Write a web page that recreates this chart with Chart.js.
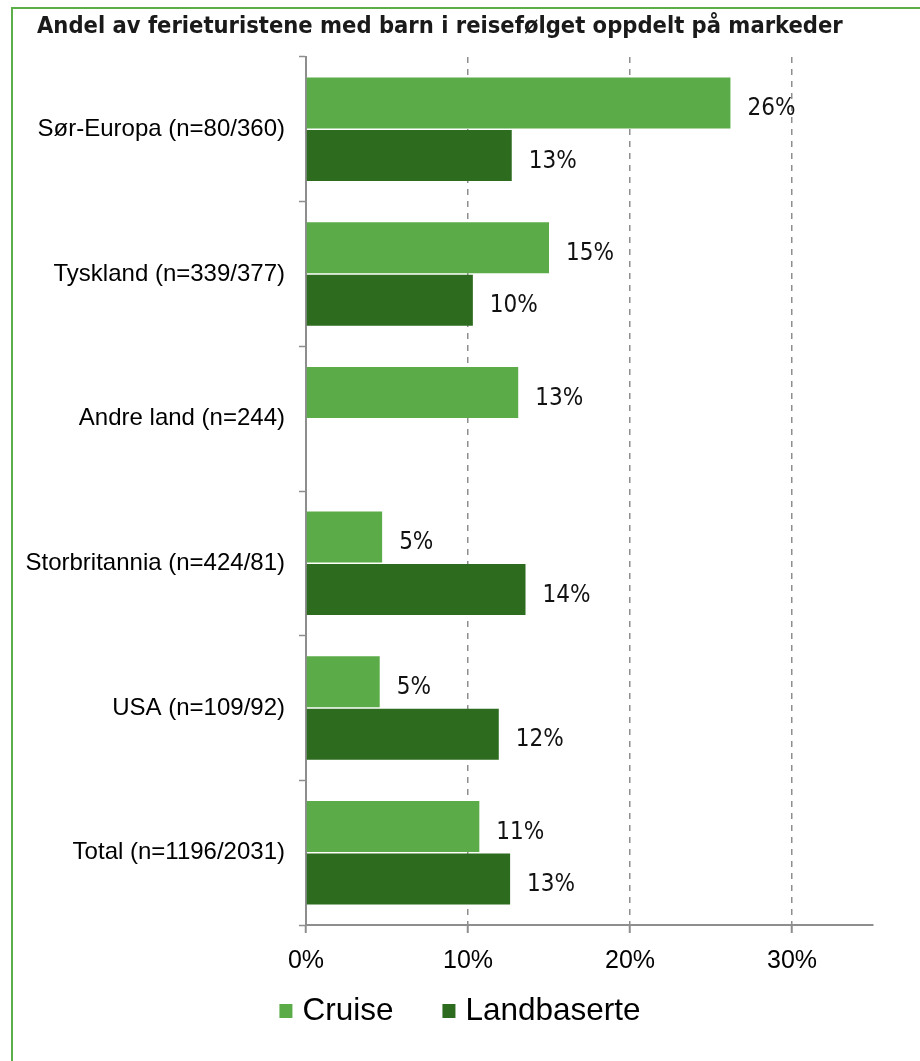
<!DOCTYPE html>
<html>
<head>
<meta charset="utf-8">
<script src="https://cdn.jsdelivr.net/npm/chart.js@4.4.1/dist/chart.umd.min.js"></script>
<style>
  html, body { margin: 0; padding: 0; background: #fff; overflow: hidden; }
  #wrap { position: relative; width: 920px; height: 1061px; }
  #frame { position: absolute; left: 11px; top: 7px; right: -10px; bottom: -10px;
           border-left: 2.5px solid #5cae49; border-top: 2.5px solid #5cae49; pointer-events: none; }
</style>
</head>
<body>
<div id="wrap">
  <canvas id="chart" width="920" height="1061"></canvas>
  <div id="frame"></div>
</div>
<script>
// chart data
const chartTitle = "Andel av ferieturistene med barn i reisefølget oppdelt på markeder";
const markets = [
  "Sør-Europa (n=80/360)",
  "Tyskland (n=339/377)",
  "Andre land (n=244)",
  "Storbritannia (n=424/81)",
  "USA (n=109/92)",
  "Total (n=1196/2031)"
];
const cruise      = [26.2, 15.0, 13.1, 4.7, 4.55, 10.7];
const landbaserte = [12.7, 10.3, null, 13.55, 11.9, 12.6];
const seriesNames = ["Cruise", "Landbaserte"];
const xTicks = [0, 10, 20, 30];
const xMax = 35;

const GRAY = "#8e8e8e";
const SANS = '"Liberation Sans", Arial, sans-serif';

// title drawn at the left edge of the frame
const topTitle = {
  id: "topTitle",
  afterDraw(chart) {
    const ctx = chart.ctx;
    ctx.save();
    ctx.font = 'bold 23.5px "DejaVu Sans Condensed", sans-serif';
    ctx.fillStyle = "#1a1a1a";
    ctx.textAlign = "left";
    ctx.textBaseline = "middle";
    ctx.fillText(chartTitle, 37, 27);
    ctx.restore();
  }
};

// value labels to the right of each bar
const valueLabels = {
  id: "valueLabels",
  afterDatasetsDraw(chart) {
    const ctx = chart.ctx;
    ctx.save();
    ctx.font = '24px "DejaVu Sans Condensed", sans-serif';
    ctx.fillStyle = "#111";
    ctx.textAlign = "left";
    ctx.textBaseline = "middle";
    chart.data.datasets.forEach((ds, i) => {
      chart.getDatasetMeta(i).data.forEach((bar, j) => {
        const v = ds.data[j];
        if (v === null || v === undefined || !isFinite(bar.x)) return;
        ctx.fillText(Math.round(v) + "%", bar.x + 17, bar.y + 6);
      });
    });
    ctx.restore();
  }
};

// legend under the axis, boxes close to the text
const bottomLegend = {
  id: "bottomLegend",
  afterDraw(chart) {
    const ctx = chart.ctx;
    const sets = chart.data.datasets;
    const box = 13, gap = 10, space = 49, y = 1011;
    ctx.save();
    ctx.font = "31.5px " + SANS;
    const widths = sets.map(d => box + gap + ctx.measureText(d.label).width);
    const total = widths.reduce((a, b) => a + b, 0) + space * (sets.length - 1);
    let x = chart.width / 2 - total / 2;
    ctx.textAlign = "left";
    ctx.textBaseline = "middle";
    sets.forEach((d, i) => {
      ctx.fillStyle = d.backgroundColor;
      ctx.fillRect(x, y - 7, box, 14);
      ctx.fillStyle = "#000";
      ctx.fillText(d.label, x + box + gap, y);
      x += widths[i] + space;
    });
    ctx.restore();
  }
};

new Chart(document.getElementById("chart"), {
  type: "bar",
  data: {
    labels: markets,
    datasets: [
      { label: seriesNames[0], data: cruise, backgroundColor: "#5bac48" },
      { label: seriesNames[1], data: landbaserte, backgroundColor: "#2d6b1f" }
    ]
  },
  options: {
    indexAxis: "y",
    responsive: false,
    animation: false,
    categoryPercentage: 0.726,
    barPercentage: 0.97,
    borderWidth: 0,
    layout: { padding: { left: 14, right: 47, top: 57, bottom: 86 } },
    plugins: {
      legend: { display: false },
      tooltip: { enabled: false },
      title: { display: false }
    },
    scales: {
      x: {
        type: "linear",
        min: 0,
        max: xMax,
        afterBuildTicks: (s) => { s.ticks = xTicks.map(v => ({ value: v })); },
        afterFit: (s) => { s.height = 50; },
        ticks: {
          callback: (v) => v + "%",
          color: "#000",
          font: { family: SANS, size: 25 },
          padding: 13,
          maxRotation: 0
        },
        grid: {
          color: (c) => (c.tick && c.tick.value === 0 ? "rgba(0,0,0,0)" : GRAY),
          lineWidth: 1.5,
          tickColor: GRAY,
          tickWidth: 2,
          tickLength: 8
        },
        border: { color: GRAY, width: 2, dash: [6, 6] }
      },
      y: {
        type: "category",
        offset: true,
        afterFit: (s) => { s.width = 292; },
        ticks: {
          color: "#000",
          font: { family: SANS, size: 24 },
          padding: 14
        },
        grid: {
          offset: true,
          drawOnChartArea: false,
          drawTicks: true,
          tickLength: 7,
          color: GRAY,
          tickWidth: 1.5
        },
        border: { color: GRAY, width: 2 }
      }
    }
  },
  plugins: [valueLabels, bottomLegend, topTitle]
});
</script>
</body>
</html>
